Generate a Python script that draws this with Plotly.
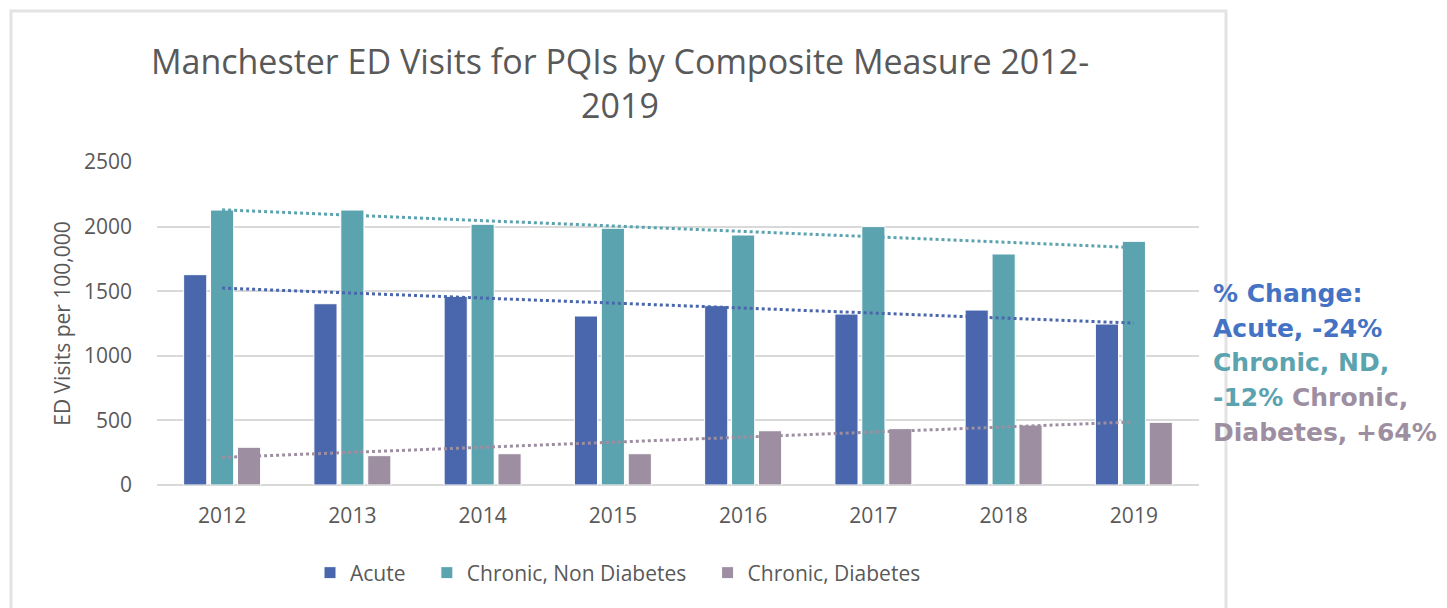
import numpy as np
import plotly.graph_objects as go

# Data: ED visits per 100,000 for PQI composite measures, Manchester
years = ["2012", "2013", "2014", "2015", "2016", "2017", "2018", "2019"]
acute = [1628, 1403, 1460, 1308, 1388, 1323, 1354, 1246]
chronic_nd = [2128, 2128, 2018, 1987, 1935, 2000, 1788, 1886]
chronic_diab = [292, 227, 242, 242, 420, 436, 464, 485]

series_names = ["Acute", "Chronic, Non Diabetes", "Chronic, Diabetes"]
y_ticks = [0, 500, 1000, 1500, 2000, 2500]

change_lines = [
    ("% Change:", "#4472C4"),
    ("Acute, -24%", "#4472C4"),
    ("Chronic, ND,", "#5BA3AF"),
    (None, None),
    ("Diabetes, +64%", "#9D8FA1"),
]

# Styling
C_ACUTE = "#4A66AC"
C_ND = "#5BA3AF"
C_DIAB = "#9D8FA1"
TXT = "#595959"
GRID = "#D9D9D9"
FONT = "Open Sans"
NOTE_FONT = "DejaVu Sans"

W, H = 1447, 608
L, R, T, B = 157, 248, 162, 123
PW, PH = W - L - R, H - T - B


def px_x(px):
    return (px - L) / PW


def px_y(py):
    return (H - B - py) / PH


fig = go.Figure()

# Extra spacing after the first two legend entries
legend_pad = ["&nbsp;&nbsp;&nbsp;", "&nbsp;&nbsp;&nbsp;", ""]
for name, pad, vals, col in zip(series_names, legend_pad,
                                [acute, chronic_nd, chronic_diab],
                                [C_ACUTE, C_ND, C_DIAB]):
    fig.add_trace(go.Bar(
        x=years, y=vals, name=name + pad,
        marker=dict(color=col, line=dict(color="white", width=1)),
    ))

# Linear trendlines for each series
idx = np.arange(len(years))
for vals, col in zip([acute, chronic_nd, chronic_diab], [C_ACUTE, C_ND, C_DIAB]):
    slope, icpt = np.polyfit(idx, vals, 1)
    fig.add_trace(go.Scatter(
        x=years, y=slope * idx + icpt, mode="lines",
        line=dict(color=col, width=3, dash="dot"),
        showlegend=False, hoverinfo="skip",
    ))

# % change note beside the plot
line_y = [293, 328, 362, 397, 432]
for (txt, col), py in zip(change_lines, line_y):
    if txt is None:
        txt = (f"<span style='color:{C_ND}'>-12%</span>"
               f"<span style='color:{C_DIAB}'> Chronic,</span>")
        col = C_ND
    fig.add_annotation(
        x=px_x(1211), y=px_y(py), xref="paper", yref="paper",
        xanchor="left", yanchor="middle", showarrow=False,
        text=f"<b>{txt}</b>",
        font=dict(family=NOTE_FONT, size=25, color=col),
    )

# Chart frame
fig.add_shape(
    type="rect", xref="paper", yref="paper",
    x0=px_x(11), x1=px_x(1226), y0=px_y(650), y1=px_y(11),
    line=dict(color="#E3E3E3", width=3), fillcolor="rgba(0,0,0,0)",
    layer="below",
)

fig.update_layout(
    width=W, height=H,
    margin=dict(l=L, r=R, t=T, b=B),
    paper_bgcolor="white", plot_bgcolor="white",
    barmode="group", bargap=0.38, bargroupgap=0.14,
    font=dict(family=FONT, color=TXT),
    title=dict(
        text="Manchester ED Visits for PQIs by Composite Measure 2012-<br>2019",
        x=620 / W, xref="container", xanchor="center",
        y=1 - 74 / H, yref="container", yanchor="middle",
        font=dict(family=FONT, size=34, color=TXT),
    ),
    xaxis=dict(
        showgrid=False, showline=False, zeroline=False,
        tickfont=dict(size=21, color=TXT), ticklabelstandoff=16,
    ),
    yaxis=dict(
        range=[0, 2500], tickvals=y_ticks, showline=False,
        gridcolor=GRID, gridwidth=1.5, zeroline=True, zerolinecolor=GRID,
        zerolinewidth=1.5,
        tickfont=dict(size=21, color=TXT), ticklabelstandoff=24,
        title=dict(text="ED Visits per 100,000", standoff=7,
                   font=dict(size=21, color=TXT)),
    ),
    legend=dict(
        orientation="h", xanchor="center", x=px_x(618),
        yanchor="middle", y=px_y(573),
        font=dict(size=21, color=TXT), traceorder="normal",
    ),
)

fig.write_html("out.html")
